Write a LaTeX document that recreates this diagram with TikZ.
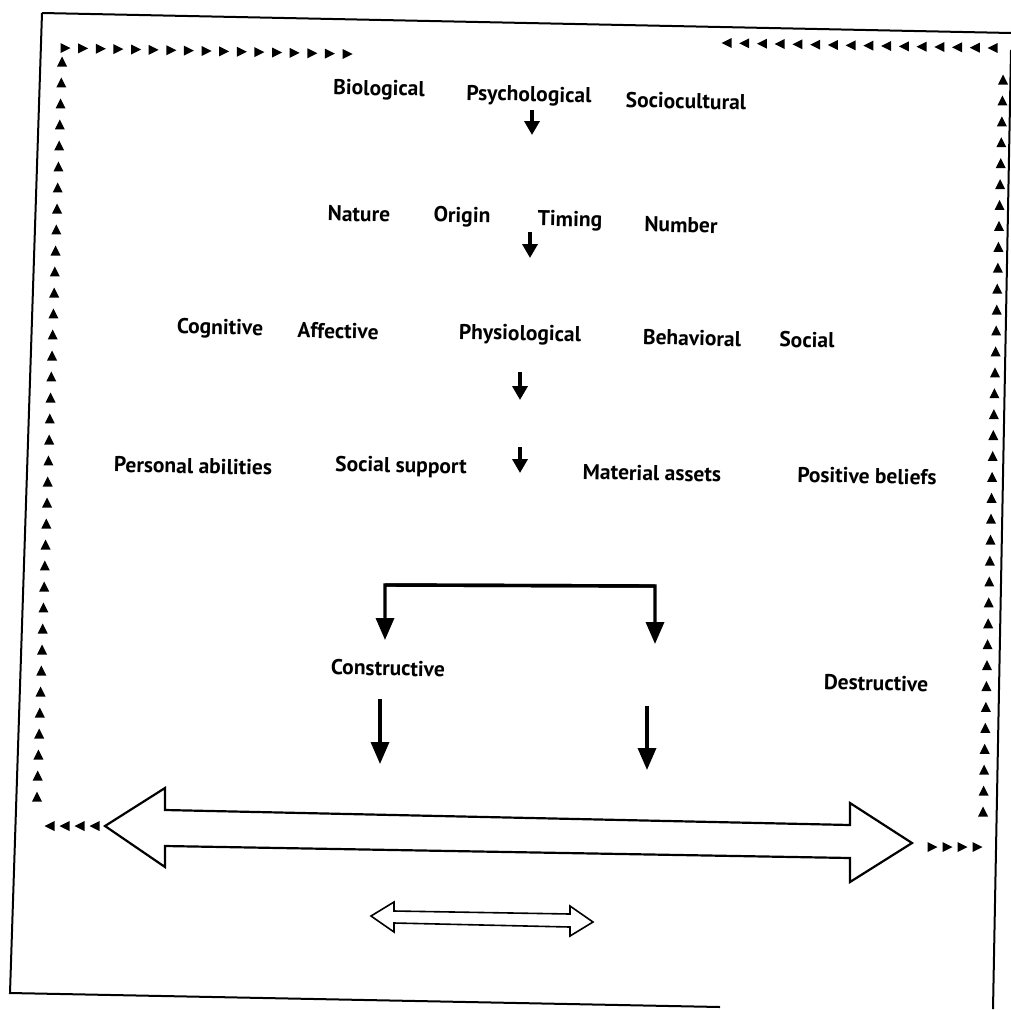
\documentclass[tikz,border=0pt]{standalone}
\usepackage{fontspec}
\setmainfont{PT Sans}
\usetikzlibrary{arrows.meta,calc}
\begin{document}
\begin{tikzpicture}[x=1pt,y=-1pt,
  lbl/.style={font=\bfseries\fontsize{21.5}{24}\selectfont, inner sep=0pt, rotate=-1.2},
  frameline/.style={line width=2pt},
  smallarr/.style={line width=3.6pt,-{Triangle[width=15pt,length=14pt]}},
  bigarr/.style={line width=3.4pt,-{Triangle[width=18pt,length=22pt]}},
  hollow/.style={line width=2.2pt, line join=miter, fill=white}]
\useasboundingbox (0,0) rectangle (1011,1009);
% frame
\draw[frameline] (42,13) -- (1011,33);
\draw[frameline] (42,13) -- (10,993) -- (720,1007);
\draw[frameline] (1011,50) -- (993,1009);
% dotted triangle rows
\foreach \i in {0,...,16}
  \fill ($(65,48)!\i/16!(347,54)$) ++(5.5,0) -- ++(-10,-5) -- ++(0,10) -- cycle;
\foreach \i in {0,...,15}
  \fill ($(727,43)!\i/15!(993,48)$) ++(-5.5,0) -- ++(10,-5) -- ++(0,10) -- cycle;
\foreach \i in {0,...,35}
  \fill ($(62,62)!\i/35!(37,797)$) ++(0,-5.5) -- ++(5,10) -- ++(-10,0) -- cycle;
\foreach \i in {0,...,35}
  \fill ($(1003,80)!\i/35!(983,812)$) ++(0,-5.5) -- ++(5,10) -- ++(-10,0) -- cycle;
\foreach \i in {0,...,3}
  \fill ($(50,826)!\i/3!(95,826)$) ++(-5.5,0) -- ++(10,-5) -- ++(0,10) -- cycle;
\foreach \i in {0,...,3}
  \fill ($(932,847)!\i/3!(977,847)$) ++(5.5,0) -- ++(-10,-5) -- ++(0,10) -- cycle;
% text
\node[lbl] (bio) at (379,90) {Biological};
\node[lbl] (psy) at (529,96) {Psychological};
\node[lbl] (soc) at (686,101) {Sociocultural};
\node[lbl] (nat) at (359,214) {Nature};
\node[lbl] (ori) at (462,217) {Origin};
\node[lbl] (tim) at (570,221) {Timing};
\node[lbl] (num) at (681,225) {Number};
\node[lbl] (cog) at (220,329) {Cognitive};
\node[lbl] (aff) at (338,331) {Affective};
\node[lbl] (phy) at (520,335) {Physiological};
\node[lbl] (beh) at (692,338) {Behavioral};
\node[lbl] (sol) at (807,340) {Social};
\node[lbl] (per) at (193,466) {Personal abilities};
\node[lbl] (sup) at (401,467) {Social support};
\node[lbl] (mat) at (652,473) {Material assets};
\node[lbl] (pos) at (867,476) {Positive beliefs};
\node[lbl] (con) at (388,668) {Constructive};
\node[lbl] (des) at (876,683) {Destructive};
% small arrows
\coordinate (a1s) at (532,110); \coordinate (a1e) at (532,135);
\coordinate (a2s) at (530,232); \coordinate (a2e) at (530,258);
\coordinate (a3s) at (520,372); \coordinate (a3e) at (520,400);
\coordinate (a4s) at (520,447); \coordinate (a4e) at (520,473);
\draw[smallarr] (a1s) -- (a1e);
\draw[smallarr] (a2s) -- (a2e);
\draw[smallarr] (a3s) -- (a3e);
\draw[smallarr] (a4s) -- (a4e);
% bracket
\coordinate (bl) at (385,585); \coordinate (br) at (655,586);
\coordinate (blt) at (385,640); \coordinate (brt) at (655,644);
\draw[bigarr] (br) -- (bl) -- (blt);
\draw[bigarr] (bl) -- (br) -- (brt);
\coordinate (c1) at (380,699); \coordinate (c2) at (380,764);
\coordinate (d1) at (647,706); \coordinate (d2) at (647,770);
\draw[bigarr] (c1) -- (c2);
\draw[bigarr] (d1) -- (d2);
% big double arrow
\draw[hollow] (105,826) -- (165,788) -- (165,810) -- (850,825) -- (850,803) -- (912,843)
  -- (850,882) -- (850,858) -- (165,846) -- (165,867) -- cycle;
% small double arrow
\draw[hollow, line width=1.6pt] (371,916) -- (394,902) -- (394,911) -- (570,914) -- (570,906) -- (593,922)
  -- (570,936) -- (570,927) -- (394,923) -- (394,932) -- cycle;
\end{tikzpicture}
\end{document}
